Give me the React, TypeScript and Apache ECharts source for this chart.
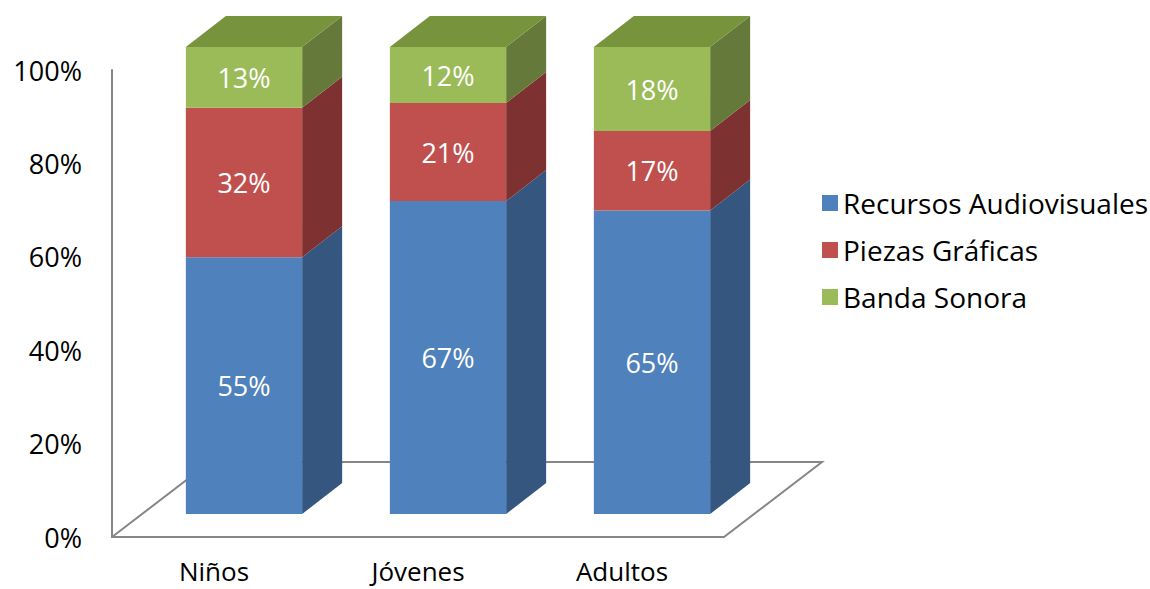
import React, { useEffect, useRef } from "react";
import * as echarts from "echarts";

const categories = ["Niños", "Jóvenes", "Adultos"];
const seriesNames = ["Recursos Audiovisuales", "Piezas Gráficas", "Banda Sonora"];
const audiovisuales = [55, 67, 65];
const graficas = [32, 21, 17];
const sonora = [13, 12, 18];
const yTicks = [0, 20, 40, 60, 80, 100];

const FONT = "'Open Sans', sans-serif";
const frontColors = ["#4F81BD", "#C0504D", "#9BBB59"];
const sideColors = ["#34567F", "#7D3231", "#657A3A"];
const topColors = ["#3E6696", "#9A3F3D", "#77933C"];

const GRID_LEFT = 112;
const GRID_TOP = 70;
const GRID_W = 612;
const GRID_H = 467;
const FLOOR_DX = 98;
const FLOOR_DY = -75;
const FRONT_DX = 30;
const FRONT_DY = -23;
const DEPTH_DX = 40;
const DEPTH_DY = -31;

export default function App() {
  const ref = useRef<HTMLDivElement>(null);
  useEffect(() => {
    if (!ref.current) return;
    const chart = echarts.init(ref.current, null, { renderer: "svg" });
    const all = [audiovisuales, graficas, sonora];
    const series = all.map((vals, si) => {
      const data = vals.map((v, ci) => {
        let start = 0;
        for (let k = 0; k < si; k++) start += all[k][ci];
        return [ci, start, start + v, v];
      });
      return {
        type: "custom",
        name: seriesNames[si],
        itemStyle: { color: frontColors[si] },
        encode: { x: 0, y: 2 },
        data,
        renderItem: (params: any, api: any) => {
          const ci = api.value(0);
          const s = api.value(1);
          const e = api.value(2);
          const v = api.value(3);
          const p0 = api.coord([ci, s]);
          const p1 = api.coord([ci, e]);
          const band = api.size([1, 0])[0];
          const half = band * 0.57 / 2;
          const cx = p0[0] + FRONT_DX;
          const yb = p0[1] + FRONT_DY;
          const yt = p1[1] + FRONT_DY;
          const x0 = cx - half;
          const x1 = cx + half;
          const children: any[] = [
            {
              type: "polygon",
              shape: { points: [[x1, yb], [x1 + DEPTH_DX, yb + DEPTH_DY], [x1 + DEPTH_DX, yt + DEPTH_DY], [x1, yt]] },
              style: { fill: sideColors[si] },
            },
            {
              type: "rect",
              shape: { x: x0, y: yt, width: x1 - x0, height: yb - yt },
              style: { fill: frontColors[si] },
            },
          ];
          if (si === all.length - 1) {
            children.push({
              type: "polygon",
              shape: { points: [[x0, yt], [x1, yt], [x1 + DEPTH_DX, yt + DEPTH_DY], [x0 + DEPTH_DX, yt + DEPTH_DY]] },
              style: { fill: topColors[si] },
            });
          }
          children.push({
            type: "text",
            x: cx,
            y: (yb + yt) / 2,
            style: {
              text: v + "%",
              fill: "#FFFFFF",
              font: "27px " + FONT,
              align: "center",
              verticalAlign: "middle",
            },
          });
          return { type: "group", children };
        },
      };
    });

    const fx0 = GRID_LEFT;
    const fy0 = GRID_TOP + GRID_H;
    const fx1 = GRID_LEFT + GRID_W;
    chart.setOption({
      animation: false,
      textStyle: { fontFamily: FONT },
      grid: { left: GRID_LEFT, top: GRID_TOP, width: GRID_W, height: GRID_H },
      xAxis: {
        type: "category",
        data: categories,
        axisLine: { show: true, lineStyle: { color: "#868686", width: 2 } },
        axisTick: { show: false },
        axisLabel: { color: "#000", fontSize: 26, lineHeight: 24, fontFamily: FONT, margin: 22 },
        splitLine: { show: false },
      },
      yAxis: {
        type: "value",
        min: 0,
        max: 100,
        interval: 20,
        axisLine: { show: true, lineStyle: { color: "#868686", width: 2 } },
        axisTick: { show: false },
        splitLine: { show: false },
        axisLabel: {
          color: "#000",
          fontSize: 27,
          fontFamily: FONT,
          margin: 30,
          formatter: (val: number) => (yTicks.indexOf(val) >= 0 ? val + "%" : ""),
        },
      },
      legend: {
        orient: "vertical",
        left: 817,
        top: 181,
        itemWidth: 16,
        itemHeight: 16,
        itemGap: 13,
        icon: "rect",
        data: seriesNames,
        textStyle: { color: "#000", fontSize: 28, fontFamily: FONT, lineHeight: 34, padding: [0, 0, 0, 0] },
      },
      graphic: [
        {
          type: "polyline",
          z: 1,
          silent: true,
          shape: {
            points: [
              [fx0, fy0],
              [fx0 + FLOOR_DX, fy0 + FLOOR_DY],
              [fx1 + FLOOR_DX, fy0 + FLOOR_DY],
              [fx1, fy0],
            ],
          },
          style: { stroke: "#868686", lineWidth: 2, fill: null },
        },
      ],
      series,
    });
    return () => chart.dispose();
  }, []);
  return (
    <div
      ref={ref}
      style={{ position: "fixed", left: 0, top: 0, width: 1150, height: 589, background: "#fff" }}
    />
  );
}
